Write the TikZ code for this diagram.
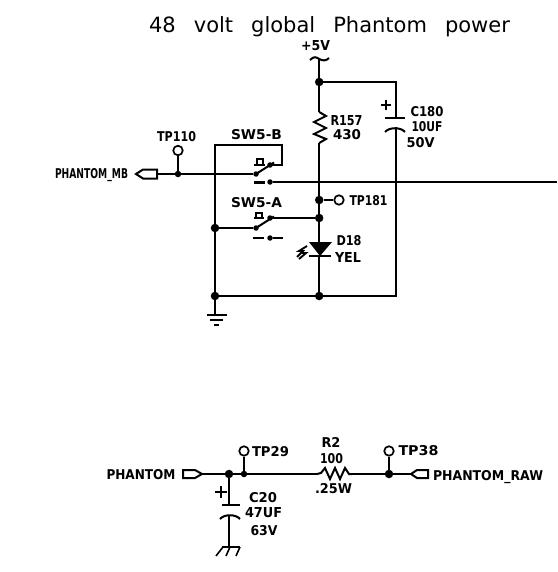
\documentclass[tikz,border=0pt]{standalone}
\usepackage{graphicx}
\usepackage{fontspec}
\setmainfont{DejaVu Sans}
\newfontfamily\titlefont[WordSpace=2.7]{DejaVu Sans}
\newcommand{\capfit}[2]{\resizebox{#1pt}{10pt}{\bfseries #2}}
\begin{document}
\begin{tikzpicture}[x=1pt,y=-1pt,
  wire/.style={line width=2pt,line join=miter},
  thin wire/.style={line width=1.6pt},
  jdot/.style={circle,fill=black,inner sep=0,minimum size=8.5pt},
  sdot/.style={circle,fill=black,inner sep=0,minimum size=5.5pt},
  tpoint/.style={circle,draw=black,line width=1.7pt,inner sep=0,minimum size=9.5pt},
  lab/.style={anchor=base,inner sep=0,font=\fontsize{13}{15}\selectfont},
  titlelab/.style={anchor=base,inner sep=0,font=\titlefont\fontsize{21}{24}\selectfont}]
\useasboundingbox (0,0) rectangle (557,572);
\fill[white] (0,0) rectangle (557,572);
% --- labels
\node[titlelab] (title) at (329.5,33) {48 volt global Phantom power};
\node[lab] (l5v) at (315.5,51) {\capfit{29}{+5V}};
\node[lab] (ltp110) at (176.5,142) {\capfit{39}{TP110}};
\node[lab] (lsw5b) at (256.5,140) {\capfit{51}{SW5-B}};
\node[lab] (lsw5a) at (256.5,207) {\capfit{51}{SW5-A}};
\node[lab] (lmb) at (91.5,178.5) {\capfit{73}{PHANTOM\_MB}};
\node[lab] (lr157) at (346.5,125.5) {\capfit{32}{R157}};
\node[lab] (l430) at (347,140) {\capfit{28}{430}};
\node[lab] (lc180) at (427,116.5) {\capfit{33}{C180}};
\node[lab] (l10uf) at (427,132) {\capfit{31}{10UF}};
\node[lab] (l50v) at (420.5,147.5) {\capfit{28}{50V}};
\node[lab] (ltp181) at (368.5,205) {\capfit{38}{TP181}};
\node[lab] (ld18) at (349,245.5) {\capfit{25}{D18}};
\node[lab] (lyel) at (348,262.5) {\capfit{26}{YEL}};
\node[lab] (lphantom) at (141,479.5) {\capfit{69}{PHANTOM}};
\node[lab] (ltp29) at (270.5,456.5) {\capfit{37}{TP29}};
\node[lab] (lc20) at (263,502.5) {\capfit{28}{C20}};
\node[lab] (l47uf) at (263.5,517.5) {\capfit{37}{47UF}};
\node[lab] (l63v) at (264,535.5) {\capfit{27}{63V}};
\node[lab] (lr2) at (331,447.5) {\capfit{19}{R2}};
\node[lab] (l100) at (331.5,463.5) {\capfit{23}{100}};
\node[lab] (l25w) at (333.5,493.5) {\capfit{37}{.25W}};
\node[lab] (ltp38) at (418.5,455.5) {\capfit{40}{TP38}};
\node[lab] (lraw) at (488,480.5) {\capfit{110}{PHANTOM\_RAW}};
% --- junctions and contacts
\node[jdot] (jtop) at (319.2,82) {};
\node[jdot] (jtp181) at (319.2,200) {};
\node[jdot] (ja) at (319.2,218) {};
\node[jdot] (jbot) at (319.2,296) {};
\node[jdot] (jleft) at (215,228) {};
\node[jdot] (jgnd) at (215,296) {};
\node[sdot,minimum size=6.5pt] (jtp110) at (178,174) {};
\node[sdot] (bnc) at (270,165) {};
\node[sdot] (bpole) at (256,174) {};
\node[sdot] (bno) at (270,182) {};
\node[sdot] (anc) at (270,218) {};
\node[sdot] (apole) at (256,228) {};
\node[sdot] (ano) at (270,238) {};
\node[jdot] (jc20) at (229,474) {};
\node[sdot,minimum size=6.5pt] (jtp29) at (244,474) {};
\node[jdot] (jtp38) at (389,474) {};
% --- test points
\node[tpoint] (tp110) at (178,150.5) {};
\node[tpoint] (tp181) at (339,200) {};
\node[tpoint] (tp29) at (244,451) {};
\node[tpoint] (tp38) at (389,451) {};
% --- named free ends
\coordinate (pwr) at (319.2,59);
\coordinate (rtop) at (319.2,112);
\coordinate (rbot) at (319.2,143);
\coordinate (cap) at (396,82);
\coordinate (capa) at (396,118);
\coordinate (capb) at (396,127);
\coordinate (capbot) at (396,296);
\coordinate (sbl) at (215,145);
\coordinate (sbr) at (282,145);
\coordinate (sbd) at (282,165);
\coordinate (lineend) at (557,182);
\coordinate (gnd) at (215,315);
\coordinate (dtop) at (319.2,242);
\coordinate (dbot) at (319.2,256);
\coordinate (conmb) at (157,174);
\coordinate (conph) at (202,474);
\coordinate (conraw) at (411,474);
\coordinate (r2l) at (317,474);
\coordinate (r2r) at (352,474);
\coordinate (c20a) at (229,505);
\coordinate (c20b) at (229,515);
\coordinate (c20g) at (229,547);
% --- wires
\draw[wire] (pwr) -- (jtop.center) -- (rtop);
\draw[wire] (rbot) -- (jtp181.center) -- (ja.center) -- (dtop);
\draw[wire] (dbot) -- (jbot.center);
\draw[wire] (jtop.center) -- (cap) -- (capa);
\draw[wire] (capb) -- (capbot) -- (jbot.center) -- (jgnd.center);
\draw[wire] (jgnd.center) -- (jleft.center) -- (sbl) -- (sbr) -- (sbd) -- (bnc.center);
\draw[wire] (jgnd.center) -- (gnd);
\draw[thin wire] (jtp181) -- (tp181);
\draw[thin wire] (jleft) -- (apole);
\draw[wire] (ja) -- (anc);
\draw[thin wire] (conmb) -- (jtp110) -- (bpole);
\draw[wire] (jtp110) -- (tp110);
\draw[wire] (bno) -- (lineend);
\draw[thin wire] (conph) -- (jc20) -- (jtp29) -- (r2l);
\draw[wire] (jtp29) -- (tp29);
\draw[wire] (jc20) -- (c20a);
\draw[wire] (c20b) -- (c20g);
\draw[thin wire] (r2r) -- (jtp38) -- (conraw);
\draw[wire] (jtp38) -- (tp38);
% --- +5V symbol
\draw[wire] (310,60) .. controls (314,56) and (316,57) .. (pwr) .. controls (323,61) and (326,61) .. (329,58);
% --- R157
\draw[wire] (rtop) -- (326,116) -- (314,122) -- (326,128) -- (314,134) -- (326,139) -- (rbot);
% --- C180
\draw[wire] (385,118) -- (405,118);
\draw[wire] (385,132) .. controls (389,127) and (401,127) .. (405,132);
\draw[wire] (381,105) -- (391,105) (386,100) -- (386,110);
% --- switch B
\draw[wire] (bpole.center) -- (274,162.5);
\draw[wire] (254,165) -- (265,165) (256.5,165) -- (256.5,159.5) -- (263,159.5) -- (263,165);
\draw[line width=3pt] (254,182) -- (265,182);
% --- switch A
\draw[wire] (apole.center) -- (274,216.5);
\draw[wire] (254,218) -- (264,218) (256,218) -- (256,213) -- (262,213) -- (262,218);
\draw[wire] (253,238) -- (264,238) (ano) -- (283,238);
% --- ground
\draw[wire] (207,315) -- (227,315);
\draw[wire] (210,320) -- (223,320);
\draw[wire] (214,325) -- (219,325);
% --- LED
\fill (309,242) -- (332,242) -- (320,256) -- cycle;
\draw[wire] (309,256) -- (331,256);
\draw[line width=1.9pt] (297,257) -- (303,251) -- (299,251) -- (307,246);
\draw[line width=1.9pt] (299,259) -- (306,253) -- (302,253);
% --- connectors
\draw[wire] (136,174) -- (143,169.5) -- (157,169.5) -- (157,178.5) -- (143,178.5) -- cycle;
\draw[wire] (183,470) -- (195,470) -- (202,474) -- (195,478) -- (183,478) -- cycle;
\draw[wire] (411,474) -- (417,470) -- (428,470) -- (428,478) -- (417,478) -- cycle;
% --- R2
\draw[wire] (r2l) -- (321,473) -- (325,468) -- (330,479) -- (335,468) -- (340,479) -- (345,468) -- (349,474) -- (r2r);
% --- C20
\draw[wire] (222,505) -- (240,505);
\draw[wire] (220,519) .. controls (224,514) and (236,514) .. (240,519);
\draw[wire] (215,492) -- (227,492) (221,486) -- (221,498);
% --- chassis ground
\draw[wire] (222,547) -- (240,547);
\draw[thin wire] (223,547) -- (216,556) (230,547) -- (226,556) (240,547) -- (236,556);
\end{tikzpicture}
\end{document}
